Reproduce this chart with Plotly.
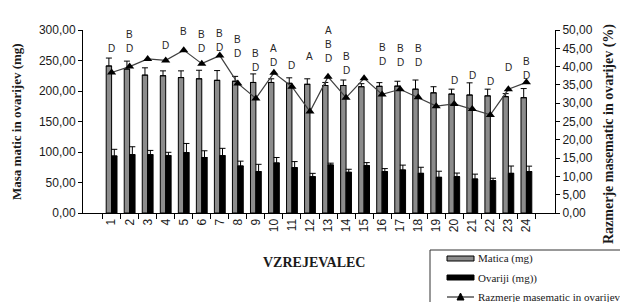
import plotly.graph_objects as go

# ---------------- data ----------------
categories = [str(i) for i in range(1, 25)]
matica_mg = [241, 236, 226, 225, 222, 220, 217.5, 216, 214, 214, 212.6, 211,
             209, 209, 207, 207.7, 208, 203, 197, 195, 193.4, 192, 190.7, 189]
matica_err = [13, 13, 12, 8, 11, 14, 16, 8, 14, 6, 9, 9,
              5, 9, 5, 6, 8, 15, 10, 8, 20, 11, 5, 15]
ovariji_mg = [93.4, 95.6, 95.6, 94, 99, 91, 94, 77, 67.8, 82, 74.3, 59.5,
              78.7, 66.7, 77.6, 67.8, 70.5, 65, 58.5, 59.5, 55.7, 53, 65, 67.8]
ovariji_err = [11, 13, 7, 5.5, 15, 11, 12, 8, 12, 9, 10, 5.5,
               3, 5, 5, 5, 8, 10, 10, 6, 8, 4, 12, 9]
ratio_pct = [38.4, 40.0, 42.1, 41.7, 44.5, 40.8, 43.0, 35.4, 31.3, 38.3, 34.5, 27.7,
             37.2, 31.5, 36.8, 32.4, 33.8, 31.6, 29.2, 29.8, 28.4, 26.8, 33.8, 35.7]
sig_letters = ["D", "BD", "", "D", "B", "BD", "BD", "BD", "BD", "AD", "D", "A",
               "ABD", "BD", "", "BD", "BD", "BD", "", "D", "D", "D", "D", "BD"]
# height (mg) of the lowest letter of each label
letter_base = [269, 269, 0, 275, 298, 270, 272, 262, 238, 246, 241, 256,
               254, 234, 0, 248, 246, 246, 0, 218, 225, 216, 239, 226]
left_ticks = [0, 50, 100, 150, 200, 250, 300]
right_ticks = [0, 5, 10, 15, 20, 25, 30, 35, 40, 45, 50]

# ---------------- layout helpers ----------------
W, H = 620, 302
PL, PR, PT, PB = 83, 555, 30, 213


def px2x(px):
    return (px - PL) / (PR - PL)


def px2y(py):
    return (PB - py) / (PB - PT)


SANS = "Liberation Sans, Arial, sans-serif"
SERIF = "Liberation Serif, Times New Roman, serif"
TXT = "#1a1a1a"

fig = go.Figure()

fig.add_trace(go.Bar(
    x=categories, y=matica_mg, name="Matica (mg)",
    marker=dict(color="#8c8c8c", line=dict(color="#000000", width=1)),
    error_y=dict(type="data", array=matica_err, symmetric=False,
                 arrayminus=[0] * 24, color="#000000", thickness=1, width=3),
    showlegend=False,
))
fig.add_trace(go.Bar(
    x=categories, y=ovariji_mg, name="Ovariji (mg))",
    marker=dict(color="#000000", line=dict(color="#000000", width=1)),
    error_y=dict(type="data", array=ovariji_err, symmetric=False,
                 arrayminus=[0] * 24, color="#000000", thickness=1, width=3),
    showlegend=False,
))
fig.add_trace(go.Scatter(
    x=categories, y=ratio_pct, yaxis="y2", mode="lines+markers",
    name="Razmerje masematic in ovarijev",
    line=dict(color="#404040", width=1.2),
    marker=dict(symbol="triangle-up", size=8, color="#000000"),
    showlegend=False,
))

annotations = []
# significance letters (x given as category index)
for idx, (letters, base) in enumerate(zip(sig_letters, letter_base)):
    for i, ch in enumerate(reversed(letters)):
        annotations.append(dict(
            x=idx, y=base + i * 23, xref="x", yref="y", text=ch,
            showarrow=False, font=dict(family=SANS, size=10, color="#262626"),
            xanchor="center", yanchor="middle",
        ))

# axis titles
annotations.append(dict(
    x=px2x(16), y=px2y(122), xref="paper", yref="paper",
    text="<b>Masa matic in ovarijev (mg)</b>", textangle=-90, showarrow=False,
    font=dict(family=SERIF, size=13, color=TXT), xanchor="center", yanchor="middle"))
annotations.append(dict(
    x=px2x(609), y=px2y(134), xref="paper", yref="paper",
    text="<b>Razmerje masematic in ovarijev (%)</b>", textangle=-90, showarrow=False,
    font=dict(family=SERIF, size=14, color=TXT), xanchor="center", yanchor="middle"))
annotations.append(dict(
    x=px2x(314), y=px2y(262), xref="paper", yref="paper",
    text="<b>VZREJEVALEC</b>", showarrow=False,
    font=dict(family=SERIF, size=14, color=TXT), xanchor="center", yanchor="middle"))

# manual legend
legend_items = ["Matica (mg)", "Ovariji (mg))", "Razmerje masematic in ovarijev"]
legend_rows = [258, 278, 297]
for label, row in zip(legend_items, legend_rows):
    annotations.append(dict(
        x=px2x(476), y=px2y(row), xref="paper", yref="paper", text=label,
        showarrow=False, font=dict(family=SERIF, size=11, color=TXT),
        xanchor="left", yanchor="middle"))

shapes = [
    dict(type="rect", xref="paper", yref="paper",
         x0=px2x(430), x1=px2x(650), y0=px2y(250), y1=px2y(320),
         line=dict(color="#333333", width=1), fillcolor="rgba(0,0,0,0)"),
    dict(type="rect", xref="paper", yref="paper",
         x0=px2x(447), x1=px2x(474), y0=px2y(256), y1=px2y(261),
         line=dict(color="#000000", width=1), fillcolor="#8c8c8c"),
    dict(type="rect", xref="paper", yref="paper",
         x0=px2x(447), x1=px2x(474), y0=px2y(275), y1=px2y(280),
         line=dict(color="#000000", width=1), fillcolor="#000000"),
    dict(type="line", xref="paper", yref="paper",
         x0=px2x(447), x1=px2x(474), y0=px2y(297), y1=px2y(297),
         line=dict(color="#000000", width=1)),
    dict(type="path", xref="paper", yref="paper",
         path="M {a},{b} L {c},{b} L {d},{e} Z".format(
             a=px2x(457), c=px2x(464), b=px2y(300), d=px2x(460.5), e=px2y(293)),
         line=dict(color="#000000", width=1), fillcolor="#000000"),
]

fig.update_layout(
    width=W, height=H,
    margin=dict(l=PL, r=W - PR, t=PT, b=H - PB, pad=0),
    paper_bgcolor="white", plot_bgcolor="white",
    barmode="group", bargap=0.4, bargroupgap=0,
    showlegend=False,
    xaxis=dict(
        type="category", tickangle=-90, tickson="boundaries",
        ticks="outside", ticklen=5, tickcolor="#000000",
        showline=True, linecolor="#000000", linewidth=1,
        showgrid=False, zeroline=False,
        tickfont=dict(family=SANS, size=12, color=TXT),
    ),
    yaxis=dict(
        range=[0, 300], tickvals=left_ticks,
        ticktext=[f"{v:.2f}".replace(".", ",") for v in left_ticks],
        ticks="outside", ticklen=4, tickcolor="#000000",
        showline=True, linecolor="#000000", linewidth=1,
        showgrid=False, zeroline=False,
        tickfont=dict(family=SANS, size=12, color=TXT),
    ),
    yaxis2=dict(
        range=[0, 50], tickvals=right_ticks,
        ticktext=[f"{v:.2f}".replace(".", ",") for v in right_ticks],
        overlaying="y", side="right",
        ticks="outside", ticklen=4, tickcolor="#000000",
        showline=True, linecolor="#000000", linewidth=1,
        showgrid=False, zeroline=False,
        tickfont=dict(family=SANS, size=12, color=TXT),
    ),
    annotations=annotations,
    shapes=shapes,
)

fig.write_html("out.html", config={"displayModeBar": False},
               post_script="document.body.style.margin='0';")
